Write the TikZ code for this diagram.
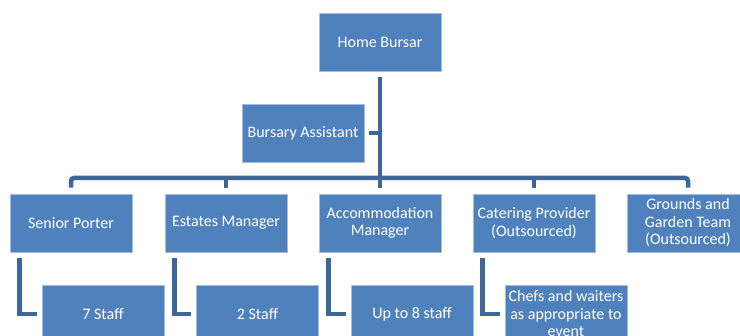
\documentclass[tikz,border=0pt]{standalone}
\usepackage{fontspec}
\setmainfont{Carlito}
\definecolor{boxfill}{HTML}{4F81BD}
\definecolor{boxedge}{HTML}{A3BCDD}
\definecolor{linecol}{HTML}{3D6799}
\begin{document}
\begin{tikzpicture}[x=1pt,y=-1pt,
  orgbox/.style={rectangle,fill=boxfill,draw=boxedge,line width=0.7pt,
    minimum width=122pt,minimum height=58pt,inner sep=2pt,
    text=white,align=center,font=\fontsize{16}{17.5}\selectfont},
  conn/.style={draw=linecol,line width=4.5pt}]
\clip (0,0) rectangle (740,336);
\fill[white] (0,0) rectangle (740,336);
\node[orgbox] (hb) at (380,42) {Home Bursar};
\node[orgbox] (ba) at (303,133) {Bursary Assistant};
\node[orgbox] (sp) at (71,223) {Senior Porter};
\node[orgbox] (em) at (226,223) {Estates Manager};
\node[orgbox] (am) at (380,223) {Accommodation\\Manager};
\node[orgbox] (cp) at (534,223) {Catering Provider\\(Outsourced)};
\node[orgbox] (gg) at (688,223) {Grounds and\\Garden Team\\(Outsourced)};
\node[orgbox] (s1) at (103,314) {7 Staff};
\node[orgbox] (s2) at (257.5,314) {2 Staff};
\node[orgbox] (s3) at (412,314) {Up to 8 staff};
\node[orgbox] (s4) at (566,314) {Chefs and waiters\\as appropriate to\\event};
\coordinate (bus) at (380,178);
% main trunk
\draw[conn] ([yshift=-6pt]hb.south) -- ([yshift=6pt]am.north);
% assistant stub
\draw[conn] ([xshift=5pt]ba.east) -- (ba.east -| hb.south);
% bus
\draw[conn,rounded corners=3pt] ([yshift=6pt]sp.north) |- (bus) -| ([yshift=6pt]gg.north);
\draw[conn] (em.north |- bus) -- ([yshift=6pt]em.north);
\draw[conn] (cp.north |- bus) -- ([yshift=6pt]cp.north);
% sub connectors
\draw[conn] ([xshift=10pt,yshift=-6pt]sp.south west) |- ([xshift=-5pt]s1.west);
\draw[conn] ([xshift=10pt,yshift=-6pt]em.south west) |- ([xshift=-5pt]s2.west);
\draw[conn] ([xshift=10pt,yshift=-6pt]am.south west) |- ([xshift=-5pt]s3.west);
\draw[conn] ([xshift=10pt,yshift=-6pt]cp.south west) |- ([xshift=-5pt]s4.west);
\end{tikzpicture}
\end{document}
